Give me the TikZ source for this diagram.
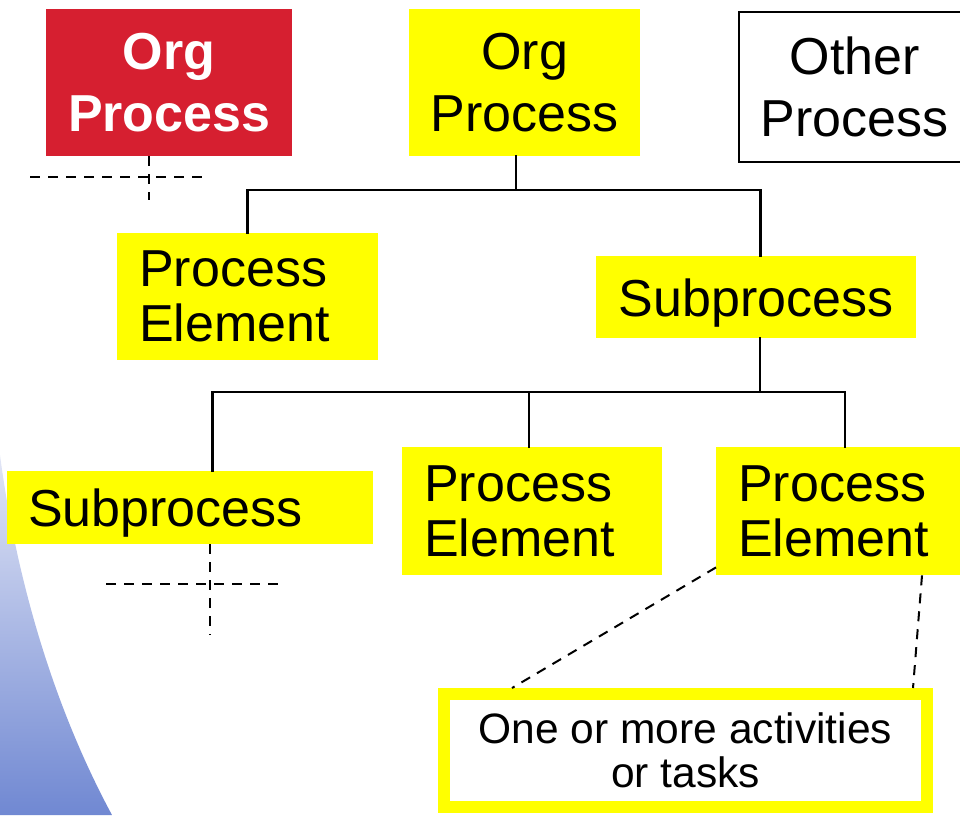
\documentclass[tikz,border=0pt]{standalone}
\usepackage{fontspec}
\setmainfont{Liberation Sans}
\definecolor{ybox}{HTML}{FFFF00}
\definecolor{rbox}{HTML}{D61F30}
\definecolor{bluetop}{RGB}{226,230,246}
\definecolor{bluebot}{RGB}{112,136,210}
\tikzset{
  big/.style={font=\fontsize{52}{55}\selectfont},
  topfont/.style={font=\fontsize{52}{62}\selectfont},
  ybox/.style={fill=ybox, inner sep=0pt, big, anchor=north west},
  leftbox/.style={ybox, inner xsep=22pt, align=left},
  tree/.style={line width=2.6pt, line cap=rect},
  dline/.style={line width=2pt, dash pattern=on 10pt off 8pt}
}
\begin{document}
\begin{tikzpicture}[x=1pt,y=-1pt]
\useasboundingbox (0,0) rectangle (960,815);
% blue gradient background shape
\shade[top color=bluetop, bottom color=bluebot]
  (0,455) .. controls (15,570) and (50,700) .. (112,815) -- (0,815) -- cycle;

% top row
\node[ybox, fill=rbox, text=white, align=center, minimum width=246pt, minimum height=147pt,
      font=\fontsize{52}{62}\selectfont\bfseries] (orgred) at (46,9) {Org\\Process};
\node[ybox, topfont, align=center, minimum width=231pt, minimum height=147pt] (orgy) at (409,9) {Org\\Process};
\node[ybox, topfont, fill=white, draw=black, line width=1.8pt, align=center, minimum width=232pt,
      minimum height=150pt] (other) at (738,11) {Other\\Process};

% second row
\node[leftbox, text width=217pt, minimum height=127pt] (pe1) at (117,233) {Process\\Element};
\node[ybox, align=center, text depth=0pt, minimum width=320pt, minimum height=82pt] (sub1) at (596,256) {Subprocess};

% third row
\node[leftbox, inner xsep=21pt, text width=324pt, text depth=0pt, minimum height=73pt] (sub2) at (7,471) {Subprocess};
\node[leftbox, text width=216pt, minimum height=128pt] (pe2) at (402,447) {Process\\Element};
\node[leftbox, text width=210pt, minimum height=128pt] (pe3) at (716,447) {Process\\Element};

% bottom note
\node[draw=ybox, line width=12pt, fill=white, inner sep=0pt, minimum width=483pt, minimum height=113pt,
      align=center, font=\fontsize{42.5}{44}\selectfont] (note) at (685.5,750.5)
      {One or more activities\\or tasks};

% tree connectors
\coordinate (h1) at (516,190);
\draw[tree] (orgy.south -| h1) -- (h1);
\draw[tree] (pe1.north) |- (h1) -| ([xshift=4pt]sub1.north);
\coordinate (h2) at (760,392);
\draw[tree] (sub1.south -| h2) -- (h2);
\draw[tree] ([xshift=22pt]sub2.north) |- (h2) -| (pe3.north -| 845,0);
\coordinate (h3) at (529,392);
\draw[tree] (h3) -- (pe2.north -| h3);

% dashed crosses
\coordinate (c1b) at (149,200);
\coordinate (c1l) at (30,177);
\coordinate (c1r) at (205,177);
\draw[dline] (orgred.south -| c1b) -- (c1b);
\draw[dline] (c1l) -- (c1r);
\coordinate (c2b) at (210,635);
\coordinate (c2l) at (106,584);
\coordinate (c2r) at (282,584);
\draw[dline] (sub2.south -| c2b) -- (c2b);
\draw[dline] (c2l) -- (c2r);

% dashed callout lines
\draw[dline] ([yshift=8pt]pe3.south west) -- (note.north west -| 512,0);
\draw[dline] (pe3.south west -| 922,0) -- (note.north west -| 913,0);
\end{tikzpicture}
\end{document}
